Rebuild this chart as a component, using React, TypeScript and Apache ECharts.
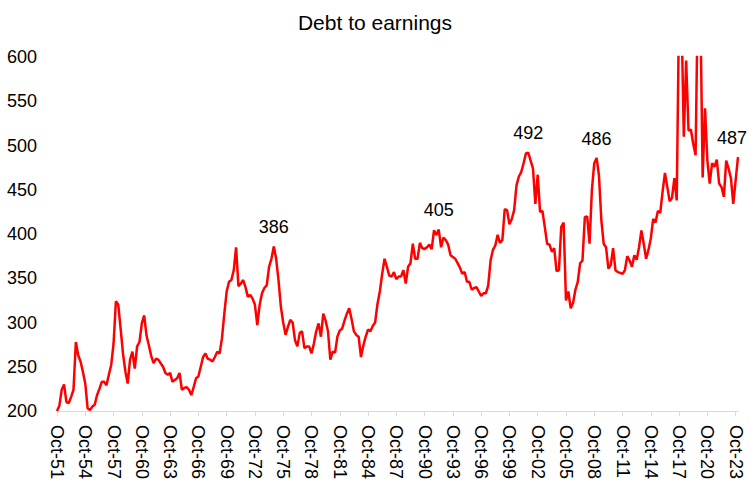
import React, { useEffect, useRef } from "react";
import * as echarts from "echarts";

const chartTitle = "Debt to earnings";

// Quarterly series starting Oct-51 (quarters: Oct, Jan, Apr, Jul)
const quarterMonths = ["Oct", "Jan", "Apr", "Jul"];
const startYear = 1951;

const valuesOct51toJul63 = [
  200, 206, 224, 230, 210, 209, 216, 224, 278, 263, 256, 244,
  231, 203, 201, 205, 207, 218, 225, 233, 233, 229, 241, 252,
  276, 324, 320, 293, 265, 245, 231, 258, 267, 248, 273, 278,
  299, 308, 285, 274, 262, 254, 259, 258, 254, 250, 243, 241,
];
const valuesOct63toJul75 = [
  243, 233, 235, 237, 243, 224, 226, 227, 224, 218, 227, 237,
  239, 250, 261, 265, 259, 258, 256, 261, 267, 265, 282, 310,
  335, 346, 348, 359, 385, 341, 344, 348, 340, 329, 331, 327,
  320, 297, 320, 333, 339, 342, 363, 372, 386, 372, 348, 318,
];
const valuesOct75toJul87 = [
  300, 286, 295, 303, 300, 280, 273, 288, 290, 271, 273, 273,
  265, 276, 290, 299, 284, 310, 302, 290, 258, 267, 266, 284,
  291, 293, 302, 310, 316, 304, 290, 286, 284, 261, 274, 284,
  292, 290, 296, 300, 321, 335, 355, 372, 363, 353, 352, 357,
];
const valuesOct87toJul99 = [
  349, 352, 352, 359, 344, 363, 367, 389, 372, 372, 390, 384,
  383, 385, 388, 383, 404, 399, 405, 385, 396, 393, 388, 376,
  374, 372, 367, 362, 355, 357, 346, 346, 337, 339, 340, 335,
  330, 333, 333, 342, 370, 382, 387, 399, 390, 393, 428, 427,
];
const valuesOct99toJul11 = [
  411, 417, 427, 455, 465, 470, 480, 491, 492, 483, 474, 434,
  467, 425, 426, 408, 389, 388, 380, 384, 358, 359, 408, 413,
  325, 335, 316, 322, 337, 346, 367, 370, 419, 420, 389, 450,
  480, 486, 466, 416, 389, 385, 361, 365, 384, 359, 357, 356,
];
const valuesOct11toJan24 = [
  355, 359, 375, 370, 363, 376, 371, 385, 404, 389, 372, 382,
  395, 417, 413, 426, 424, 448, 469, 453, 437, 441, 463, 438,
  660, 650, 510, 596, 517, 518, 502, 489, 680, 660, 464, 542,
  483, 457, 480, 476, 484, 457, 453, 442, 483, 474, 463, 434,
  461, 487,
];

const values: number[] = [
  ...valuesOct51toJul63,
  ...valuesOct63toJul75,
  ...valuesOct75toJul87,
  ...valuesOct87toJul99,
  ...valuesOct99toJul11,
  ...valuesOct11toJan24,
];

const categories: string[] = values.map((_, i) => {
  const m = quarterMonths[i % 4];
  const y = startYear + Math.floor((i + 3) / 4);
  return `${m}-${String(y % 100).padStart(2, "0")}`;
});

// Points that carry a value label
const labeledIndices = [92, 162, 200, 229, 289];

const yMin = 200;
const yMax = 600;
const yStep = 50;

const FONT = "'Liberation Sans', Arial, sans-serif";

export default function App() {
  const ref = useRef<HTMLDivElement>(null);

  useEffect(() => {
    if (!ref.current) return;
    const chart = echarts.init(ref.current, undefined, { renderer: "svg" });
    const lastIdx = values.length - 1;
    chart.setOption({
      animation: false,
      backgroundColor: "#ffffff",
      title: {
        text: chartTitle,
        left: "center",
        top: 7,
        textStyle: {
          fontFamily: FONT,
          fontSize: 21,
          fontWeight: "normal",
          color: "#000000",
        },
      },
      grid: { left: 57, right: 12, top: 57, bottom: 77, containLabel: false },
      xAxis: {
        type: "category",
        data: categories,
        boundaryGap: false,
        axisLine: { show: true, lineStyle: { color: "#d9d9d9", width: 1 } },
        axisTick: {
          show: true,
          interval: 11,
          length: 5,
          lineStyle: { color: "#d9d9d9" },
        },
        axisLabel: {
          interval: 11,
          rotate: -90,
          color: "#000000",
          fontSize: 18,
          fontFamily: FONT,
          margin: 14,
        },
        splitLine: { show: false },
      },
      yAxis: {
        type: "value",
        min: yMin,
        max: yMax,
        interval: yStep,
        axisLine: { show: false },
        axisTick: { show: false },
        splitLine: { show: false },
        axisLabel: {
          color: "#000000",
          fontSize: 18,
          fontFamily: FONT,
          margin: 20,
        },
      },
      series: [
        {
          type: "line",
          data: values,
          showSymbol: false,
          symbol: "none",
          clip: true,
          lineStyle: { color: "#ff0000", width: 2.5 },
          z: 2,
        },
        {
          type: "scatter",
          data: labeledIndices.map((i) => ({
            value: [i, values[i]],
            label: i === lastIdx ? { offset: [-6, 0] } : undefined,
          })),
          symbolSize: 0.5,
          itemStyle: { color: "#ff0000", opacity: 1 },
          label: {
            show: true,
            position: "top",
            distance: 10,
            color: "#000000",
            opacity: 1,
            fontSize: 18,
            fontFamily: FONT,
            formatter: (p: any) => String(p.value[1]),
          },
          emphasis: { disabled: true },
          z: 3,
        },
      ],
    });
    return () => chart.dispose();
  }, []);

  return (
    <div
      ref={ref}
      style={{ position: "fixed", left: 0, top: 0, width: 750, height: 488 }}
    />
  );
}
